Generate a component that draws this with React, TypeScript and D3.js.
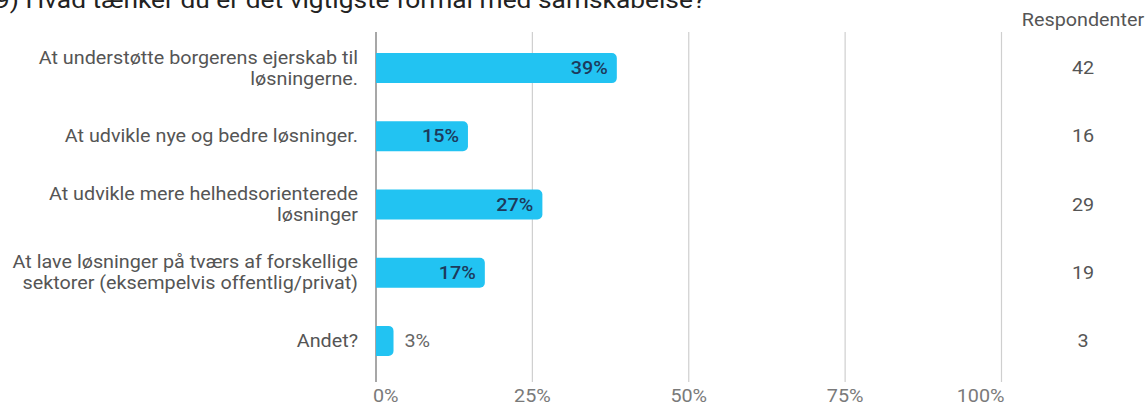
import React from "react";
import * as d3 from "d3";

const title = "9) Hvad tænker du er det vigtigste formål med samskabelse?";
const categories: string[][] = [
  ["At understøtte borgerens ejerskab til", "løsningerne."],
  ["At udvikle nye og bedre løsninger."],
  ["At udvikle mere helhedsorienterede", "løsninger"],
  ["At lave løsninger på tværs af forskellige", "sektorer (eksempelvis offentlig/privat)"],
  ["Andet?"],
];
const percents = [38.5, 14.7, 26.6, 17.4, 2.8];
const percentLabels = ["39%", "15%", "27%", "17%", "3%"];
const respondents = [42, 16, 29, 19, 3];
const ticks = [0, 25, 50, 75, 100];
const tickLabels = ["0%", "25%", "50%", "75%", "100%"];

const W = 1147;
const H = 405;
const FONT = "Roboto, 'Noto Sans', sans-serif";
const SX = 1.13;

type TProps = {
  x: number;
  y: number;
  size?: number;
  fill?: string;
  anchor?: "start" | "middle" | "end";
  weight?: number;
  dy?: string;
  children: React.ReactNode;
};

function T({ x, y, size = 17.5, fill = "#555", anchor = "start", weight = 400, dy, children }: TProps) {
  return (
    <g transform={`translate(${x},${y}) scale(${SX},1)`}>
      <text x={0} y={0} dy={dy} fontSize={size} fill={fill} textAnchor={anchor} fontWeight={weight}>
        {children}
      </text>
    </g>
  );
}

export default function App() {
  const x = d3.scaleLinear().domain([0, 100]).range([376, 1001.5]);
  const y = d3
    .scaleBand<number>()
    .domain(categories.map((_, i) => i))
    .range([34, 375])
    .paddingInner(0.56)
    .paddingOuter(0.28);
  const bw = y.bandwidth();
  const r = 5;

  const barPath = (v: number, top: number) => {
    const x0 = x(0);
    const x1 = x(v);
    const rr = Math.min(r, (x1 - x0) / 2);
    const p = d3.path();
    p.moveTo(x0, top);
    p.lineTo(x1 - rr, top);
    p.arcTo(x1, top, x1, top + rr, rr);
    p.lineTo(x1, top + bw - rr);
    p.arcTo(x1, top + bw, x1 - rr, top + bw, rr);
    p.lineTo(x0, top + bw);
    p.closePath();
    return p.toString();
  };

  return (
    <svg
      width={W}
      height={H}
      style={{ position: "absolute", left: 0, top: 0, background: "#fff" }}
      fontFamily={FONT}
    >
      <rect width={W} height={H} fill="#fff" />
      <T x={-5} y={8} size={23.3} fill="#222">
        {title}
      </T>
      {ticks.map((t, i) => {
        const last = i === ticks.length - 1;
        const anchor = i === 0 ? "start" : last ? "end" : "middle";
        const lx = i === 0 ? x(t) - 3 : last ? x(t) + 3 : x(t);
        return (
          <g key={t}>
            <line
              x1={x(t)}
              x2={x(t)}
              y1={32}
              y2={382}
              stroke={i === 0 ? "#8a8a8a" : "#cfcfcf"}
              strokeWidth={i === 0 ? 1.5 : 1.2}
            />
            <T x={lx} y={402} fill="#7a7a7a" anchor={anchor}>
              {tickLabels[i]}
            </T>
          </g>
        );
      })}
      {categories.map((lines, i) => {
        const top = y(i)!;
        const cy = top + bw / 2;
        const v = percents[i];
        const inside = x(v) - x(0) > 45;
        return (
          <g key={i}>
            <path d={barPath(v, top)} fill="#22c3f2" />
            {lines.map((ln, j) => (
              <T
                key={j}
                x={358}
                y={cy + (j - (lines.length - 1) / 2) * 21}
                dy="0.35em"
                fill="#555"
                anchor="end"
              >
                {ln}
              </T>
            ))}
            <T
              x={inside ? x(v) - 9 : x(v) + 11}
              y={cy}
              dy="0.35em"
              fill={inside ? "#1d3a5c" : "#666"}
              weight={inside ? 500 : 400}
              anchor={inside ? "end" : "start"}
            >
              {percentLabels[i]}
            </T>
            <T x={1083} y={cy} dy="0.35em" fill="#555" anchor="middle">
              {respondents[i]}
            </T>
          </g>
        );
      })}
      <T x={1083} y={20} dy="0.35em" fill="#555" anchor="middle">
        Respondenter
      </T>
    </svg>
  );
}
